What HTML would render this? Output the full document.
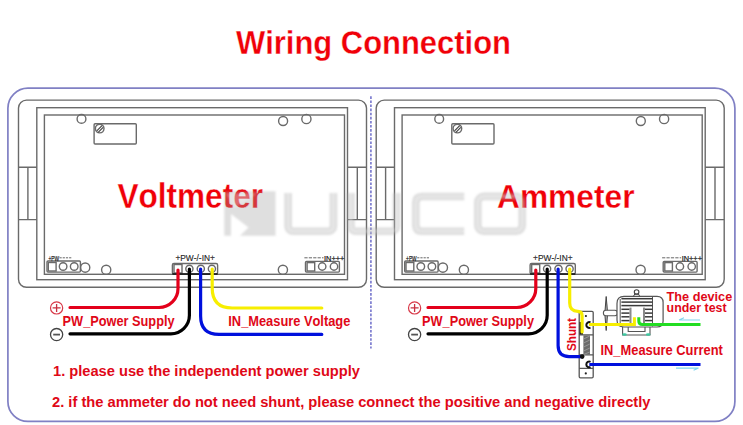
<!DOCTYPE html>
<html><head><meta charset="utf-8"><style>
html,body{margin:0;padding:0;background:#fff;width:743px;height:425px;overflow:hidden}
svg{display:block}
text{font-family:"Liberation Sans", sans-serif;font-kerning:none}
</style></head><body>
<svg width="743" height="425" viewBox="0 0 743 425">
<defs><filter id="soft" x="-5%" y="-20%" width="110%" height="140%"><feGaussianBlur stdDeviation="0.8"/></filter></defs>
<rect x="7.9" y="88.2" width="727" height="333.2" rx="20" fill="#fff" stroke="#8080c4" stroke-width="1.7"/>
<rect x="18.5" y="100.1" width="348" height="187.2" rx="8" fill="#fff" stroke="#6a6a6a" stroke-width="1.4"/>
<rect x="36.8" y="107.7" width="310.7" height="172" fill="none" stroke="#6a6a6a" stroke-width="1.4"/>
<rect x="44.4" y="115" width="300.1" height="159.3" fill="none" stroke="#6a6a6a" stroke-width="1.4"/>
<path d="M18.5 167.3H36.8M18.5 219.6H36.8M27.9 167.3V219.6" fill="none" stroke="#6a6a6a" stroke-width="1.4"/>
<path d="M347.5 167.3H366.5M347.5 219.6H366.5M357.3 167.3V219.6" fill="none" stroke="#6a6a6a" stroke-width="1.4"/>
<circle cx="81.5" cy="118.9" r="4.4" fill="none" stroke="#6a6a6a" stroke-width="1.4"/>
<circle cx="283.1" cy="121" r="4.5" fill="none" stroke="#6a6a6a" stroke-width="1.4"/>
<circle cx="306.4" cy="119" r="4.6" fill="none" stroke="#6a6a6a" stroke-width="1.4"/>
<rect x="94.1" y="123.8" width="42.2" height="20.2" rx="1" fill="none" stroke="#6a6a6a" stroke-width="1.4"/>
<circle cx="99.7" cy="128.6" r="4.3" fill="#fff" stroke="#6a6a6a" stroke-width="1.4"/>
<path d="M96.8 130.9L102 125.7M98.2 132.3L103.1 127.4" stroke="#444" stroke-width="1.2"/>
<rect x="47" y="261" width="33.4" height="11.1" rx="1" fill="none" stroke="#6a6a6a" stroke-width="1.4"/>
<rect x="48.3" y="262.5" width="7.8" height="8.5" fill="none" stroke="#6a6a6a" stroke-width="1.4"/>
<circle cx="63.1" cy="266.5" r="3.8" fill="none" stroke="#6a6a6a" stroke-width="1.4"/>
<circle cx="74.2" cy="266.5" r="3.8" fill="none" stroke="#6a6a6a" stroke-width="1.4"/>
<circle cx="85.2" cy="267.6" r="4.6" fill="none" stroke="#6a6a6a" stroke-width="1.4"/>
<circle cx="106.2" cy="269.8" r="4.6" fill="none" stroke="#6a6a6a" stroke-width="1.4"/>
<text x="48.4" y="260.8" font-size="8" textLength="10.5" lengthAdjust="spacingAndGlyphs" fill="#222" stroke="#222" stroke-width="0.25">+PW</text>
<path d="M59.5 257.8H72.3" stroke="#555" stroke-width="0.9" stroke-dasharray="2.2 1"/>
<rect x="172.4" y="263.5" width="45.2" height="10.6" rx="1.5" fill="none" stroke="#6a6a6a" stroke-width="1.4"/>
<rect x="174" y="264.5" width="8" height="8.5" fill="none" stroke="#6a6a6a" stroke-width="1.4"/>
<circle cx="189.4" cy="268.8" r="3.6" fill="none" stroke="#6a6a6a" stroke-width="1.4"/>
<circle cx="200.8" cy="268.8" r="3.6" fill="none" stroke="#6a6a6a" stroke-width="1.4"/>
<circle cx="211.9" cy="268.8" r="3.6" fill="none" stroke="#6a6a6a" stroke-width="1.4"/>
<text x="175.4" y="261.2" font-size="8.6" textLength="39.5" lengthAdjust="spacingAndGlyphs" fill="#222" stroke="#222" stroke-width="0.12">+PW-/-IN+</text>
<path d="M172.4 274.1H217.6" stroke="#111" stroke-width="1.5"/>
<circle cx="282.9" cy="269.8" r="4.6" fill="none" stroke="#6a6a6a" stroke-width="1.4"/>
<rect x="305.5" y="261.4" width="33.9" height="10.7" rx="1" fill="none" stroke="#6a6a6a" stroke-width="1.4"/>
<rect x="307.1" y="262.6" width="7.6" height="8.4" fill="none" stroke="#6a6a6a" stroke-width="1.4"/>
<circle cx="322.2" cy="266.5" r="3.7" fill="none" stroke="#6a6a6a" stroke-width="1.4"/>
<circle cx="334" cy="266.5" r="3.7" fill="none" stroke="#6a6a6a" stroke-width="1.4"/>
<path d="M304.4 257.8H323.5" stroke="#555" stroke-width="0.9" stroke-dasharray="3.2 1.2"/>
<text x="324" y="260.8" font-size="8" textLength="20.3" lengthAdjust="spacingAndGlyphs" fill="#222" stroke="#222" stroke-width="0.25">IN+++</text>
<rect x="376.2" y="100.1" width="348" height="187.2" rx="8" fill="#fff" stroke="#6a6a6a" stroke-width="1.4"/>
<rect x="394.5" y="107.7" width="310.7" height="172" fill="none" stroke="#6a6a6a" stroke-width="1.4"/>
<rect x="402.1" y="115" width="300.1" height="159.3" fill="none" stroke="#6a6a6a" stroke-width="1.4"/>
<path d="M376.2 167.3H394.5M376.2 219.6H394.5M385.6 167.3V219.6" fill="none" stroke="#6a6a6a" stroke-width="1.4"/>
<path d="M705.2 167.3H724.2M705.2 219.6H724.2M715.0 167.3V219.6" fill="none" stroke="#6a6a6a" stroke-width="1.4"/>
<circle cx="439.2" cy="118.9" r="4.4" fill="none" stroke="#6a6a6a" stroke-width="1.4"/>
<circle cx="640.8" cy="121" r="4.5" fill="none" stroke="#6a6a6a" stroke-width="1.4"/>
<circle cx="664.1" cy="119" r="4.6" fill="none" stroke="#6a6a6a" stroke-width="1.4"/>
<rect x="451.8" y="123.8" width="42.2" height="20.2" rx="1" fill="none" stroke="#6a6a6a" stroke-width="1.4"/>
<circle cx="457.4" cy="128.6" r="4.3" fill="#fff" stroke="#6a6a6a" stroke-width="1.4"/>
<path d="M454.5 130.9L459.7 125.7M455.9 132.3L460.8 127.4" stroke="#444" stroke-width="1.2"/>
<rect x="404.7" y="261" width="33.4" height="11.1" rx="1" fill="none" stroke="#6a6a6a" stroke-width="1.4"/>
<rect x="406.0" y="262.5" width="7.8" height="8.5" fill="none" stroke="#6a6a6a" stroke-width="1.4"/>
<circle cx="420.8" cy="266.5" r="3.8" fill="none" stroke="#6a6a6a" stroke-width="1.4"/>
<circle cx="431.9" cy="266.5" r="3.8" fill="none" stroke="#6a6a6a" stroke-width="1.4"/>
<circle cx="442.9" cy="267.6" r="4.6" fill="none" stroke="#6a6a6a" stroke-width="1.4"/>
<circle cx="463.9" cy="269.8" r="4.6" fill="none" stroke="#6a6a6a" stroke-width="1.4"/>
<text x="406.1" y="260.8" font-size="8" textLength="10.5" lengthAdjust="spacingAndGlyphs" fill="#222" stroke="#222" stroke-width="0.25">+PW</text>
<path d="M417.2 257.8H430.0" stroke="#555" stroke-width="0.9" stroke-dasharray="2.2 1"/>
<rect x="530.1" y="263.5" width="45.2" height="10.6" rx="1.5" fill="none" stroke="#6a6a6a" stroke-width="1.4"/>
<rect x="531.7" y="264.5" width="8" height="8.5" fill="none" stroke="#6a6a6a" stroke-width="1.4"/>
<circle cx="547.1" cy="268.8" r="3.6" fill="none" stroke="#6a6a6a" stroke-width="1.4"/>
<circle cx="558.5" cy="268.8" r="3.6" fill="none" stroke="#6a6a6a" stroke-width="1.4"/>
<circle cx="569.6" cy="268.8" r="3.6" fill="none" stroke="#6a6a6a" stroke-width="1.4"/>
<text x="533.1" y="261.2" font-size="8.6" textLength="39.5" lengthAdjust="spacingAndGlyphs" fill="#222" stroke="#222" stroke-width="0.12">+PW-/-IN+</text>
<path d="M530.1 274.1H575.3" stroke="#111" stroke-width="1.5"/>
<circle cx="640.6" cy="269.8" r="4.6" fill="none" stroke="#6a6a6a" stroke-width="1.4"/>
<rect x="663.2" y="261.4" width="33.9" height="10.7" rx="1" fill="none" stroke="#6a6a6a" stroke-width="1.4"/>
<rect x="664.8" y="262.6" width="7.6" height="8.4" fill="none" stroke="#6a6a6a" stroke-width="1.4"/>
<circle cx="679.9" cy="266.5" r="3.7" fill="none" stroke="#6a6a6a" stroke-width="1.4"/>
<circle cx="691.7" cy="266.5" r="3.7" fill="none" stroke="#6a6a6a" stroke-width="1.4"/>
<path d="M662.1 257.8H681.2" stroke="#555" stroke-width="0.9" stroke-dasharray="3.2 1.2"/>
<text x="681.7" y="260.8" font-size="8" textLength="20.3" lengthAdjust="spacingAndGlyphs" fill="#222" stroke="#222" stroke-width="0.25">IN+++</text>
<path d="M370.9 96.3V348.4" stroke="#8484d2" stroke-width="1.8" stroke-dasharray="2.6 1.5"/>
<text x="236" y="53.6" font-size="33.5" font-weight="bold" fill="#f00008" stroke="#fff" stroke-width="0.3" textLength="275" lengthAdjust="spacingAndGlyphs">Wiring Connection</text>
<text x="117.5" y="207.6" font-size="34.3" font-weight="bold" fill="#f00008" stroke="#fff" stroke-width="0.3" textLength="145.5" lengthAdjust="spacingAndGlyphs">Voltmeter</text>
<text x="497" y="207.5" font-size="33.8" font-weight="bold" fill="#f00008" stroke="#fff" stroke-width="0.3" textLength="137.5" lengthAdjust="spacingAndGlyphs">Ammeter</text>
<g filter="url(#soft)">
<path d="M224.2 191.3H275.6V235.8H240L248.5 227.5L231 214V235.8H224.2Z" fill="#a0a0a0" fill-opacity="0.34"/>
<path d="M226 193.5H257L234 208Z" fill="#fff" fill-opacity="0.25"/>
<path d="M288.1 193V226.3A5 5 0 0 0 293.1 231.3H328.4A5 5 0 0 0 333.4 226.3V193" fill="none" stroke="#a0a0a0" stroke-opacity="0.36" stroke-width="7.6"/>
<path d="M288.1 193V226.3A5 5 0 0 0 293.1 231.3H328.4A5 5 0 0 0 333.4 226.3V193" fill="none" stroke="#fff" stroke-opacity="0.3" stroke-width="2.6"/>
<path d="M350.9 193V226.3A5 5 0 0 0 355.9 231.3H391.6A5 5 0 0 0 396.6 226.3V193" fill="none" stroke="#a0a0a0" stroke-opacity="0.36" stroke-width="7.6"/>
<path d="M350.9 193V226.3A5 5 0 0 0 355.9 231.3H391.6A5 5 0 0 0 396.6 226.3V193" fill="none" stroke="#fff" stroke-opacity="0.3" stroke-width="2.6"/>
<path d="M464.2 196.5H422Q415.8 196.5 415.8 202.7V225Q415.8 231.3 422 231.3H464.2" fill="none" stroke="#a0a0a0" stroke-opacity="0.36" stroke-width="7.6"/>
<path d="M464.2 196.5H422Q415.8 196.5 415.8 202.7V225Q415.8 231.3 422 231.3H464.2" fill="none" stroke="#fff" stroke-opacity="0.3" stroke-width="2.6"/>
<path d="M483.8 196.4H516.2A6 6 0 0 1 522.2 202.4V225.3A6 6 0 0 1 516.2 231.3H483.8A6 6 0 0 1 477.8 225.3V202.4A6 6 0 0 1 483.8 196.4Z" fill="none" stroke="#a0a0a0" stroke-opacity="0.36" stroke-width="7.6"/>
<path d="M483.8 196.4H516.2A6 6 0 0 1 522.2 202.4V225.3A6 6 0 0 1 516.2 231.3H483.8A6 6 0 0 1 477.8 225.3V202.4A6 6 0 0 1 483.8 196.4Z" fill="none" stroke="#fff" stroke-opacity="0.3" stroke-width="2.6"/>
</g>
<path d="M178 270V288.5A19 19 0 0 1 159 307.5H70" stroke="#e3001b" fill="none" stroke-width="3.2" stroke-linecap="round"/>
<path d="M189.4 269V315.3A18.5 18.5 0 0 1 170.9 333.8H70" stroke="#000" fill="none" stroke-width="3.2" stroke-linecap="round"/>
<path d="M200.6 269V316Q200.6 334.4 219 334.4H321.8" stroke="#0010dd" fill="none" stroke-width="3.2" stroke-linecap="round"/>
<path d="M212.2 269V288Q212.2 308 232.2 308H321.8" stroke="#f7ee00" fill="none" stroke-width="3.2" stroke-linecap="round"/>
<path d="M535.8 270V288.5A19 19 0 0 1 516.8 307.5H428" stroke="#e3001b" fill="none" stroke-width="3.2" stroke-linecap="round"/>
<path d="M547.2 269V315.3A18.5 18.5 0 0 1 528.7 333.8H428" stroke="#000" fill="none" stroke-width="3.2" stroke-linecap="round"/>
<path d="M606.2 296.5Q603.4 313.5 606.2 330.5Q609 313.5 606.2 296.5Z" fill="#bbb" stroke="#444" stroke-width="1"/>
<rect x="603.4" y="310.3" width="14" height="5.4" rx="2.5" fill="#fff" stroke="#555" stroke-width="1.1"/>
<path d="M624 296.4H657Q663.1 296.4 663.1 302.5V321Q663.1 327 657 327H624Q617 327 617 320V303.4Q617 296.4 624 296.4Z" fill="#fff" stroke="#555" stroke-width="1.2"/>
<path d="M620.2 299V324.5M652.5 297V326.5" stroke="#555" stroke-width="1"/>
<rect x="621.4" y="297.95" width="31.1" height="1.5" fill="#3a3a3a"/>
<rect x="621.4" y="301.34999999999997" width="31.1" height="1.5" fill="#3a3a3a"/>
<rect x="621.4" y="304.84999999999997" width="31.1" height="1.5" fill="#3a3a3a"/>
<rect x="621.4" y="308.54999999999995" width="8.2" height="1.5" fill="#3a3a3a"/>
<rect x="644.6" y="308.54999999999995" width="7.9" height="1.5" fill="#3a3a3a"/>
<rect x="621.4" y="312.34999999999997" width="8.2" height="1.5" fill="#3a3a3a"/>
<rect x="644.6" y="312.34999999999997" width="7.9" height="1.5" fill="#3a3a3a"/>
<rect x="621.4" y="316.04999999999995" width="8.2" height="1.5" fill="#3a3a3a"/>
<rect x="644.6" y="316.04999999999995" width="7.9" height="1.5" fill="#3a3a3a"/>
<rect x="621.4" y="319.84999999999997" width="8.2" height="1.5" fill="#3a3a3a"/>
<rect x="644.6" y="319.84999999999997" width="7.9" height="1.5" fill="#3a3a3a"/>
<rect x="621.4" y="323.54999999999995" width="8.2" height="1.5" fill="#3a3a3a"/>
<rect x="644.6" y="323.54999999999995" width="7.9" height="1.5" fill="#3a3a3a"/>
<rect x="629.5" y="307.6" width="2" height="16" fill="#8a8a8a"/><rect x="643" y="307.6" width="2" height="16" fill="#8a8a8a"/>
<circle cx="636.6" cy="292" r="2.3" fill="#fff" stroke="#444" stroke-width="1.1"/><path d="M633.4 296.4L634.8 294H638.4L639.8 296.4" fill="none" stroke="#444" stroke-width="1"/>
<path d="M622.6 327V335H650V327M628.2 327V331.5H645V327" fill="none" stroke="#555" stroke-width="1.1"/>
<ellipse cx="624.5" cy="334.5" rx="2.3" ry="1.3" fill="#3cc8a0"/><ellipse cx="648.2" cy="334.5" rx="2.3" ry="1.3" fill="#3cc8a0"/>
<rect x="579.2" y="311.4" width="14" height="66.4" rx="1.2" fill="#fff" stroke="#555" stroke-width="1.3"/>
<path d="M579.2 334.8H593.2M579.2 354.8H593.2M579.2 368.4H593.2" stroke="#555" stroke-width="1.2"/>
<rect x="583.4" y="335.3" width="6.6" height="19.2" fill="#6b6b6b"/>
<path d="M583.6 339L589.8 336M583.6 343L589.8 340M583.6 347L589.8 344M583.6 351L589.8 348M583.6 354.5L589.8 352" stroke="#9a9a9a" stroke-width="0.9"/>
<rect x="579.5" y="322" width="3.5" height="12.5" fill="#222"/>
<circle cx="585.9" cy="316" r="1.1" fill="#222"/><circle cx="585.8" cy="373.4" r="1.1" fill="#222"/>
<path d="M569.7 269V303Q569.7 311.3 578 311.3Q582.1 311.3 582.1 316V332" stroke="#f7ee00" fill="none" stroke-width="3.2" stroke-linecap="round"/>
<path d="M590.5 322.4A2.9 2.9 0 1 0 590.5 327.6" fill="none" stroke="#111" stroke-width="2"/>
<path d="M590.5 361.8A2.9 2.9 0 1 0 590.5 367" fill="none" stroke="#111" stroke-width="2"/>
<path d="M558.1 269V345.6Q558.1 356.6 569.1 356.6H582" stroke="#0010dd" fill="none" stroke-width="3.2" stroke-linecap="round"/>
<circle cx="582.2" cy="356.6" r="2.3" fill="#111"/>
<path d="M589.3 364.4H700.5" stroke="#0010dd" stroke-width="3"/>
<path d="M589 324.6H634.4V317.3" fill="none" stroke="#f7ee00" stroke-width="3"/>
<path d="M638.8 317.3V321Q638.8 324.6 642.4 324.6H700.5" fill="none" stroke="#22dd22" stroke-width="3"/>
<path d="M679 320H700M679 320L684 317.8" stroke="#7fd4ee" stroke-width="1.1" fill="none"/>
<path d="M676 368.1H698.6M698.6 368.1L693.6 370.3" stroke="#7fd4ee" stroke-width="1.1" fill="none"/>
<circle cx="56.6" cy="307.9" r="6.1" fill="none" stroke="#d83848" stroke-width="1.2"/><path d="M52.6 307.9H60.6M56.6 303.9V311.9" stroke="#c83040" stroke-width="1.3"/>
<circle cx="56.6" cy="334.6" r="6.1" fill="none" stroke="#444" stroke-width="1.3"/><path d="M53.2 334.6H60.0" stroke="#555" stroke-width="1.8"/>
<circle cx="414.6" cy="307.9" r="6.1" fill="none" stroke="#d83848" stroke-width="1.2"/><path d="M410.6 307.9H418.6M414.6 303.9V311.9" stroke="#c83040" stroke-width="1.3"/>
<circle cx="414.6" cy="334.6" r="6.1" fill="none" stroke="#444" stroke-width="1.3"/><path d="M411.20000000000005 334.6H418.0" stroke="#555" stroke-width="1.8"/>
<text x="62.6" y="326" font-size="14" font-weight="bold" fill="#e00818" textLength="112" lengthAdjust="spacingAndGlyphs">PW_Power Supply</text>
<text x="422" y="326" font-size="14" font-weight="bold" fill="#e00818" textLength="112" lengthAdjust="spacingAndGlyphs">PW_Power Supply</text>
<text x="228.3" y="326.2" font-size="13.8" font-weight="bold" fill="#e00818" textLength="122" lengthAdjust="spacingAndGlyphs">IN_Measure Voltage</text>
<text x="600.5" y="354.5" font-size="13.8" font-weight="bold" fill="#e00818" textLength="122.3" lengthAdjust="spacingAndGlyphs">IN_Measure Current</text>
<text x="666.6" y="300.6" font-size="13.4" font-weight="bold" fill="#e00818" textLength="65.6" lengthAdjust="spacingAndGlyphs">The device</text>
<text x="666.6" y="312.1" font-size="13.4" font-weight="bold" fill="#e00818" textLength="60" lengthAdjust="spacingAndGlyphs">under test</text>
<text transform="translate(576.4 351) rotate(-90)" x="0" y="0" font-size="13.2" font-weight="bold" fill="#e00818" textLength="33" lengthAdjust="spacingAndGlyphs">Shunt</text>
<text x="53" y="376" font-size="14.5" font-weight="bold" fill="#e00818" textLength="307" lengthAdjust="spacingAndGlyphs">1. please use the independent power supply</text>
<text x="52" y="406.5" font-size="14.5" font-weight="bold" fill="#e00818" textLength="598.5" lengthAdjust="spacingAndGlyphs">2. if the ammeter do not need shunt, please connect the positive and negative directly</text>
</svg>
</body></html>
